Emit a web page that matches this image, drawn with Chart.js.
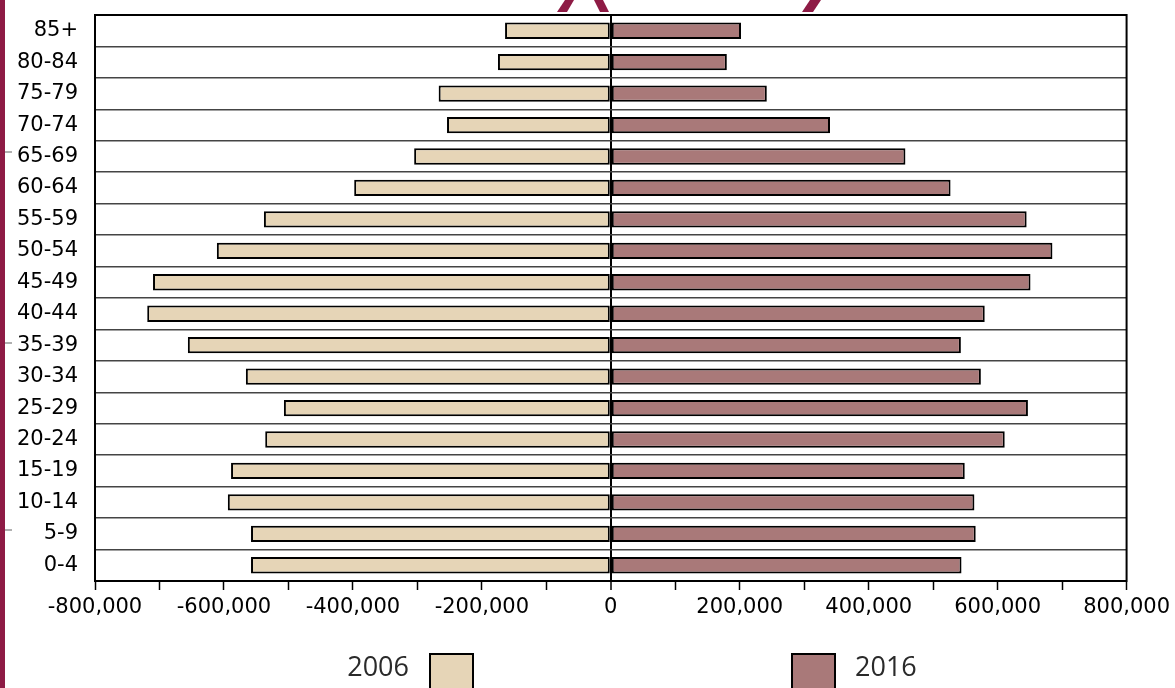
<!DOCTYPE html>
<html>
<head>
<meta charset="utf-8">
<script src="https://cdn.jsdelivr.net/npm/chart.js@4.4.0/dist/chart.umd.min.js"></script>
<style>
  html, body { margin: 0; padding: 0; background: #fff; }
  #wrap { width: 1175px; height: 688px; position: relative; }
</style>
</head>
<body>
<div id="wrap"><canvas id="pyramid"></canvas></div>
<script>
// grupos de idade (de cima para baixo)
const ageGroups = ['85+', '80-84', '75-79', '70-74', '65-69', '60-64', '55-59', '50-54', '45-49',
  '40-44', '35-39', '30-34', '25-29', '20-24', '15-19', '10-14', '5-9', '0-4'];

// populacao 2006 (lado esquerdo, valores negativos)
const pop2006 = [-164000, -175000, -267000, -254000, -305000, -398000, -538000, -611000, -710000,
  -719000, -656000, -566000, -507000, -536000, -589000, -594000, -558000, -558000];

// populacao 2016 (lado direito)
const pop2016 = [202000, 180000, 242000, 340000, 457000, 527000, 645000, 685000, 651000,
  580000, 543000, 574000, 647000, 611000, 549000, 564000, 566000, 544000];

const seriesNames = ['2006', '2016'];
const xMin = -800000;
const xMax = 800000;

const fmt = v => v.toLocaleString('en-US');

// moldura, decoracoes e legenda
const extras = {
  id: 'extras',
  beforeDraw(chart) {
    const c = chart.ctx;
    c.save();
    c.fillStyle = '#8E1B45';
    c.fillRect(0, 0, 5, 688);
    c.strokeStyle = '#b0b0b0';
    c.lineWidth = 2;
    [152, 343, 530].forEach(y => {
      c.beginPath(); c.moveTo(5, y); c.lineTo(12, y); c.stroke();
    });
    // pedaco do titulo cortado no topo
    c.fillStyle = '#8E1B45';
    const shapes = [
      [[557, 12], [565, 0], [574, 0], [567, 12]],
      [[594, 0], [603, 0], [609, 12], [600, 12]],
      [[802, 12], [810, 0], [821, 0], [813, 12]]
    ];
    shapes.forEach(p => {
      c.beginPath();
      c.moveTo(p[0][0], p[0][1]);
      p.slice(1).forEach(q => c.lineTo(q[0], q[1]));
      c.closePath(); c.fill();
    });
    c.restore();
  },
  afterDraw(chart) {
    const c = chart.ctx;
    const a = chart.chartArea;
    c.save();
    c.strokeStyle = '#000';
    c.lineWidth = 2;
    c.strokeRect(a.left, a.top, a.right - a.left, a.bottom - a.top);

    // legenda
    c.font = '27px "Open Sans", sans-serif';
    c.fillStyle = '#2a2a2a';
    c.textBaseline = 'alphabetic';
    c.textAlign = 'right';
    c.fillText(seriesNames[0], 409, 676);
    c.textAlign = 'left';
    c.fillText(seriesNames[1], 855, 676);
    const boxes = [[430, chart.data.datasets[0].backgroundColor], [792, chart.data.datasets[1].backgroundColor]];
    boxes.forEach(([x, col]) => {
      c.fillStyle = col;
      c.fillRect(x, 654, 43, 40);
      c.strokeRect(x, 654, 43, 40);
    });
    c.restore();
  }
};

new Chart(document.getElementById('pyramid'), {
  type: 'bar',
  data: {
    labels: ageGroups,
    datasets: [
      {
        label: seriesNames[0],
        data: pop2006,
        backgroundColor: '#E6D5B7',
        borderColor: '#000',
        borderWidth: 2,
        borderSkipped: false,
        barPercentage: 0.52,
        categoryPercentage: 1.0
      },
      {
        label: seriesNames[1],
        data: pop2016,
        backgroundColor: '#A97979',
        borderColor: '#000',
        borderWidth: 2,
        borderSkipped: false,
        barPercentage: 0.52,
        categoryPercentage: 1.0
      }
    ]
  },
  options: {
    indexAxis: 'y',
    responsive: true,
    maintainAspectRatio: false,
    animation: false,
    layout: { padding: { top: 15, right: 47, left: 0, bottom: 0 } },
    plugins: {
      legend: { display: false },
      tooltip: { enabled: false }
    },
    scales: {
      x: {
        stacked: true,
        min: xMin,
        max: xMax,
        afterFit(scale) { scale.height = 107; },
        border: { display: true, color: '#000', width: 2 },
        grid: {
          drawOnChartArea: true,
          color: ctx => (ctx.tick && ctx.tick.value === 0) ? '#000' : 'rgba(0,0,0,0)',
          lineWidth: ctx => (ctx.tick && ctx.tick.value === 0) ? 2 : 1,
          tickColor: '#000',
          tickLength: 9,
          tickWidth: 1.5
        },
        ticks: {
          stepSize: 100000,
          autoSkip: false,
          maxRotation: 0,
          padding: 5,
          color: '#000',
          font: { family: '"DejaVu Sans", sans-serif', size: 21 },
          callback: v => (v % 200000 === 0) ? fmt(v) : ''
        }
      },
      y: {
        stacked: true,
        afterFit(scale) {
          scale.width = 95;
          scale.paddingTop = 0;
          scale.paddingBottom = 0;
        },
        border: { display: true, color: '#000', width: 2 },
        grid: {
          offset: true,
          drawTicks: false,
          color: '#444',
          lineWidth: 1.5
        },
        ticks: {
          padding: 17,
          color: '#000',
          font: { family: '"DejaVu Sans", sans-serif', size: 21 }
        }
      }
    }
  },
  plugins: [extras]
});
</script>
</body>
</html>
